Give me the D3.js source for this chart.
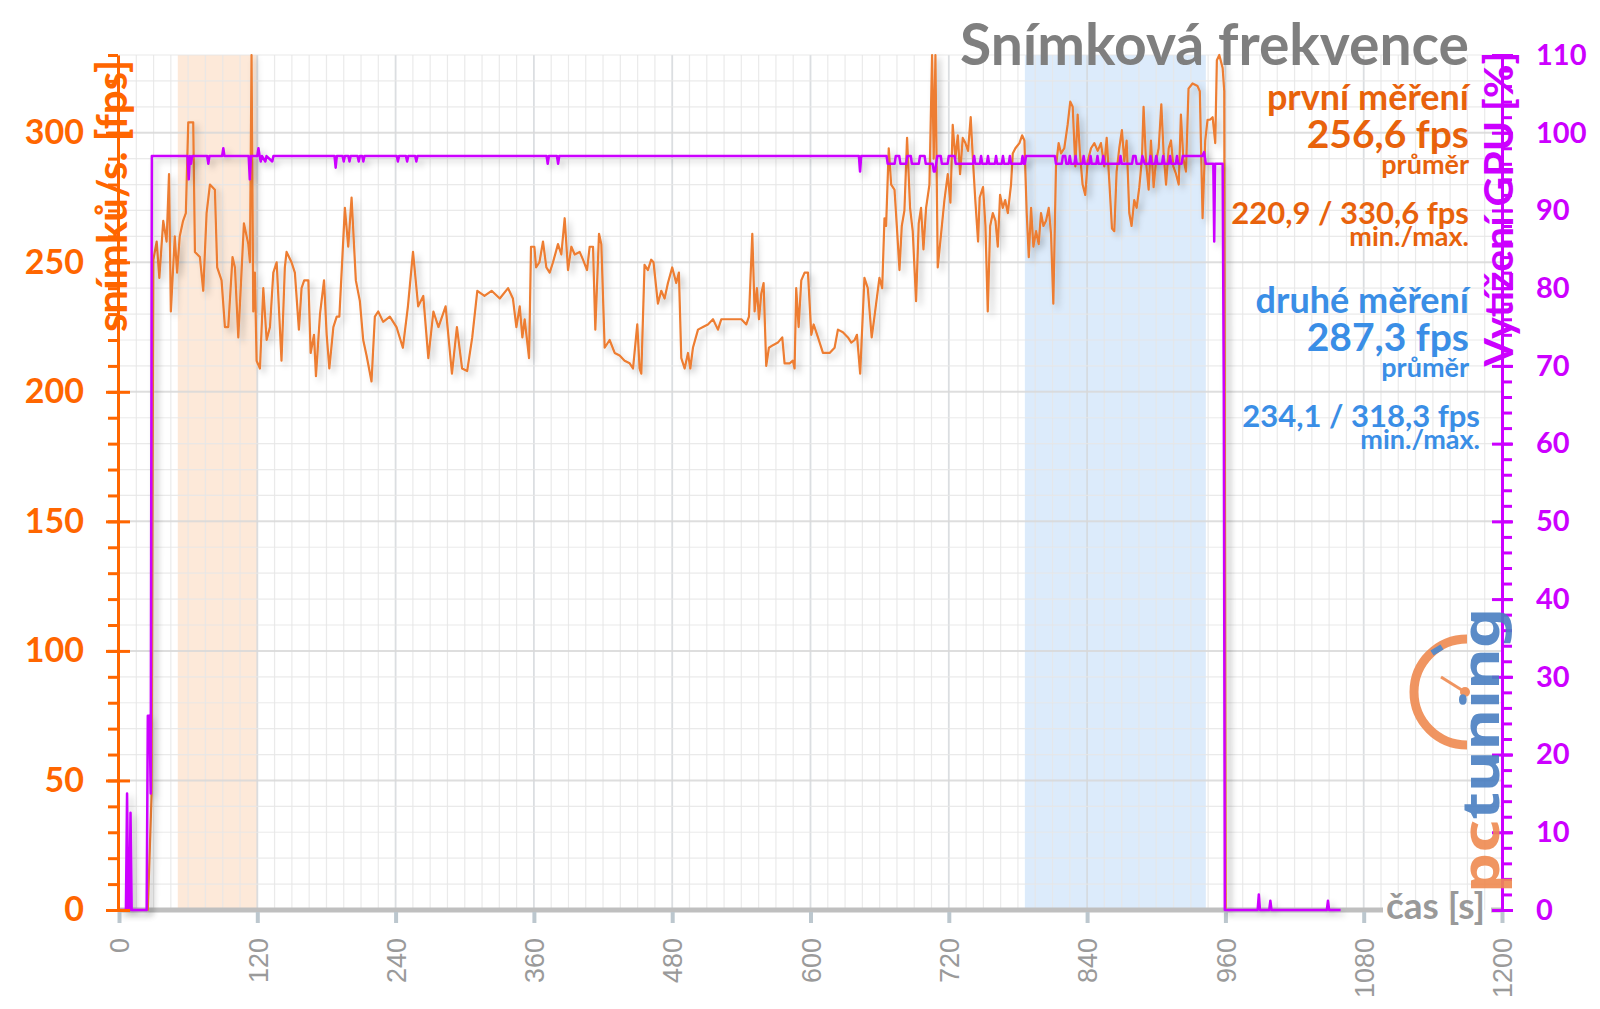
<!DOCTYPE html>
<html>
<head>
<meta charset="utf-8">
<script src="https://cdn.jsdelivr.net/npm/d3@7"></script>
<style>
html, body { margin: 0; padding: 0; background: #fff; }
svg { display: block; font-family: Lato, "Open Sans", sans-serif; }
</style>
</head>
<body>
<div id="chart"></div>
<script>
// snímková frekvence [s, fps]
const fpsData = [
[0,0],[25,0],[28.3,45],[29.8,251],[32.7,258],[35,244],[38.4,266],[41.3,258],[43.4,284],[45,231],[48.4,260],[50.4,246],[52.7,260],[55.6,266],[58,269],[60.1,304],[64.4,304],[65.9,254],[70.2,252],[73.1,239],[76,269],[78.9,280],[83.2,278],[85.2,248],[89,243],[91.9,225],[94.8,225],[98.5,252],[100.6,248],[103.5,221],[108.4,265],[112.2,257],[113.6,250],[115,330],[116.5,231],[117.9,246],[119.4,212],[122.3,209],[125.2,240],[128.1,220],[131,225],[133.9,246],[136.8,250],[141,212],[143.9,248],[145.4,254],[149.7,250],[152.6,246],[156.1,224],[158.4,240],[160.7,243],[164.3,243],[166.3,215],[169.2,222],[170.9,206],[174.4,230],[177.9,243],[180.2,222],[182.5,209],[186,225],[188.9,229],[191.2,229],[196,271],[198.9,256],[201.8,275],[205.5,243],[209,235],[211.9,220],[214.8,214],[219.1,204],[222,229],[224.9,231],[229.2,227],[235,229],[240.8,225],
[246.3,217],[250.7,233],[255.1,254],[259.6,233],[264,237],[268.4,213],[272.8,231],[277.2,225],[283.4,233],[288.9,207],[293.2,225],[297.7,209],[302.1,208],[306.5,221],[310.9,239],[317.1,237],[323.3,239],
[330.4,236],[337.6,240],[341.8,236],[344.8,225],[347.7,233],[350,221],[352,228],[355.8,213],[357.5,256],[360.4,256],[361.9,248],[364.8,250],[367.9,258],[370.8,248],[373.7,246],[376.6,250],[380.9,257],[383.8,253],[386.7,267],[389.6,247],[392.5,256],[395.4,253],[399.7,254],[402.6,251],[406.1,247],[408.4,256],[411.3,256],[413.3,224],[416.5,261],[418.5,257],[421.4,217],[425.7,220],[430.1,215],[434.4,214],[438.7,212],[443.1,211],[446,209],[449.7,226],[451.7,209],[453.2,207],[456,249],[458.9,247],[461.8,251],[463.8,250],[467.6,234],[470.5,239],[473.4,236],[476.3,242],[480,248],[483.5,242],[485.8,246],[487.9,213],[490.8,209],[493.7,215],[495.7,209],[498,217],[502.4,224],[506.7,225],[511,226],[515.4,228],[519.7,224],[522.6,228],[529.8,228],[535.6,228],[540,228],[544.3,226],[546.6,229],[549.5,261],[551.5,231],[553.5,240],[555.3,228],[557.3,238],[559.3,242],[561.6,210],[563.9,217],[567.4,218],[571.7,219],[575.5,221],[577.5,211],[581.9,211],[584.7,212],[586.2,209],[587.6,240],[589.7,225],[592,243],[594.9,246],[597.8,246],[600.7,222],[602.7,226],[606.5,221],[610.8,215],[616.6,215],[620.9,217],[623.8,224],[628.1,223],[632.5,221],[635.4,219],[638.3,220],[640.3,222],
[643.1,207],[646.8,244],[649.7,240],[653.1,221],[655.5,229],[659.8,244],[662.2,240],[664.2,267],[665.6,264],[667.9,294],[670,280],[672.9,278],[674.9,264],[677.2,247],[679.2,264],[681.5,270],[683.8,298],[686.4,271],[688.7,262],[691.6,235],[693.9,265],[695.9,271],[698,255],[700.3,271],[703.2,280],[705.5,330],[706.9,290],[708.4,330],[710.4,248],[713.3,261],[716.2,274],[719.1,284],[721.4,273],[723.4,303],[725.7,290],[727.8,299],[729.8,284],[732.1,298],[734.4,296],[736.7,293],[739,306],[741,289],[743,274],[745.4,258],[746.8,275],[749.7,279],[751.8,264],[753.8,231],[755.9,264],[758.2,269],[760.5,266],[762.5,256],[764.5,276],[766.8,271],[768.9,274],[771.2,269],[774,280],[775.5,292],[777.8,294],[781.3,296],[783.6,299],[785.6,297],[787.6,269],[789.4,252],[791.4,271],[793.4,256],[795.7,262],[798,257],[800,269],[802.1,264],[804.4,266],[806.7,271],[808.7,261],[810.7,234],[813,287],[815.3,296],[817.4,292],[820.2,294],[823.1,303],[825.4,312],[827.5,310],[829.8,287],[831.8,307],[833.8,292],[836.1,280],[838.4,276],[840.5,289],[843.4,294],[846.3,296],[849.2,293],[852,296],[854.9,287],[857,298],[859.3,281],[861.6,263],[863.6,262],[865.6,285],[867.9,294],[870.2,301],[872.3,289],[874.3,297],[876.6,269],[878.6,264],[880.9,274],[883,271],[885.3,279],[887.6,290],[889,310],[891.1,289],[893.4,278],[895.4,297],[897.7,279],[899.8,289],[902.1,294],[904.4,311],[906.4,292],[908.5,280],[910.8,294],[912.8,297],[914.8,287],[917.2,284],[919.5,280],[921.4,307],[923.5,290],[925.8,285],[928,317],[931.5,319],[935.8,318],[937.8,316],[940.2,267],[942.5,297],[944.5,305],[946.6,305],[948.9,306],[951.2,296],[952.6,328],[954.7,330],[957.6,325],[959,316],[960.3,0]
];

// vytížení GPU [s, %]
const gpuData = [
[0,0],[6,0],[7,15],[8,0],[9,0],[10,12.5],[11,0],[24,0],[25,25],[26.5,25],[27.5,15],[28.5,97],
[59.5,97],[60.5,94],[61.5,97],[62.5,96],[63.5,97],
[76.5,97],[77.5,96],[78.5,97],
[89.5,97],[90.5,98],[91.5,97],
[112.5,97],[113.5,94],[114.5,97],
[120,97],[121,98],[122,97],[123,96.3],[124,97],[127,96.3],[128,97],[133,96.3],[134,97],
[187,97],[188,95.5],[189,97],[194,97],[195,96.3],[196,97],[199,97],[200,96.3],[201,97],[207,97],[208,96.3],[209,97],[211,97],[212,96.3],[213,97],
[241,97],[242,96.3],[243,97],[249,97],[250,96.3],[251,97],[257,97],[258,96.3],[259,97],
[371,97],[372,96],[373,97],[380,97],[381,96],[382,97],
[642,97],[643,95],[644,97],
[666,97],[667,96],[673,96],[674,97],[677,97],[678,96],[683,96],[684,97],[687,97],[688,96],[694,96],[695,97],[699,97],[700,96],[706,96],[707,95],[708,95],[709,96],[710,97],[713,97],[714,96],[719,96],[720,97],[725,97],[726,96],
[741,96],[742,97],[743,96],[747,96],[748,97],[749,96],[753,96],[754,97],[755,96],[760,96],[761,97],[762,96],[766,96],[767,97],[768,96],[772,96],[773,97],[774,96],[783,96],[784,97],[785,96],[786,96],[787,97],
[812,97],[813,96],[818,96],[819,97],[821,97],[822,96],[824,96],[825,97],[826,96],[829,96],[830,97],[831,96],[836,96],[837,97],[838,96],[842,96],[843,97],[844,96],[848,96],[849,97],[850,96],[853,96],[854,97],[855,96],[868,96],[869,97],[870,96],[879,96],[880,97],[882,97],[883,96],[887,96],[888,97],[890,96],[894,96],[895,97],[896,96],[899,96],[900,97],[901,96],[905,96],[906,97],[907,96],[911,96],[912,97],[913,96],[917,96],[918,97],[919,96],[922,96],[923,97],
[940,97],[941.5,97.5],[943,96],[949.5,96],[950.3,86],[951,96],[957.6,96],[958.6,67],[959.5,0],
[988,0],[989,2],[990,0],[998,0],[999,1.2],[1000,0],[1048,0],[1049,1.2],[1050,0],[1060,0]
];

// měřené úseky [od, do] v s
const bands = [[51, 120], [786, 943]];

const xTicks = d3.range(0, 1201, 120);
const fpsTicks = d3.range(0, 301, 50);
const gpuTicks = d3.range(0, 111, 10);

const runs = [
    { name: 'první měření', avg: '256,6', min: '220,9', max: '330,6' },
    { name: 'druhé měření', avg: '287,3', min: '234,1', max: '318,3' }
];

const W = 1600, H = 1009;
const orange = '#ED7D31', axisOrange = '#FF6600', textOrange = '#E8620C';
const purple = '#CC00FF', blue = '#3A8EE6', grey = '#7F7F7F';

const svg = d3.select('#chart').append('svg')
    .attr('width', W)
    .attr('height', H);

const defs = svg.append('defs');
const f = defs.append('filter').attr('id', 'shadow')
    .attr('x', '-5%').attr('y', '-5%').attr('width', '115%').attr('height', '115%');
f.append('feDropShadow')
    .attr('dx', 4).attr('dy', 4).attr('stdDeviation', 3)
    .attr('flood-color', '#000').attr('flood-opacity', 0.22);

const x = d3.scaleLinear().domain([0, 1200]).range([119, 1502]);
const yFps = d3.scaleLinear().domain([0, 330]).range([910, 55]);
const yGpu = d3.scaleLinear().domain([0, 110]).range([910, 55]);

// zvýrazněné úseky
svg.selectAll('rect.band')
    .data(bands)
    .enter()
    .append('rect')
    .attr('class', 'band')
    .attr('x', d => x(d[0]))
    .attr('y', yFps(330))
    .attr('width', d => x(d[1]) - x(d[0]))
    .attr('height', yFps(0) - yFps(330))
    .attr('fill', (d, i) => i == 0 ? '#FDE9D9' : '#DCEBFB');

// mřížka
const grid = svg.append('g');
grid.selectAll('line.vg')
    .data(d3.range(0, 1201, 15))
    .enter()
    .append('line')
    .attr('x1', d => x(d)).attr('x2', d => x(d))
    .attr('y1', yFps(330)).attr('y2', yFps(0))
    .attr('stroke', d => d % 120 == 0 ? '#D5D8DC' : '#E6E6E6')
    .attr('stroke-opacity', 0.85)
    .attr('stroke-width', d => d % 120 == 0 ? 1.8 : 1.2);
grid.selectAll('line.hg')
    .data(d3.range(10, 331, 10))
    .enter()
    .append('line')
    .attr('x1', x(0)).attr('x2', x(1200))
    .attr('y1', d => yFps(d)).attr('y2', d => yFps(d))
    .attr('stroke', d => d % 50 == 0 ? '#D8D8D8' : '#E6E6E6')
    .attr('stroke-opacity', 0.85)
    .attr('stroke-width', d => d % 50 == 0 ? 2 : 1.2);

// osa x
svg.append('line')
    .attr('x1', x(0)).attr('x2', 1383)
    .attr('y1', 910).attr('y2', 910)
    .attr('stroke', '#BFBFBF').attr('stroke-width', 5);
svg.append('line')
    .attr('x1', 1491).attr('x2', x(1200))
    .attr('y1', 910).attr('y2', 910)
    .attr('stroke', '#BFBFBF').attr('stroke-width', 5);

const xAxis = d3.axisBottom(x).tickValues(xTicks).tickFormat(d3.format('d'))
    .tickSize(11).tickSizeOuter(0).tickPadding(0);
const gx = svg.append('g')
    .attr('transform', 'translate(0,912)')
    .call(xAxis);
gx.select('.domain').remove();
gx.selectAll('.tick line').attr('stroke', '#BCC7CE').attr('stroke-width', 4);
gx.selectAll('.tick text')
    .attr('transform', 'rotate(-90)')
    .attr('text-anchor', 'end')
    .attr('x', -26)
    .attr('y', 0)
    .attr('dy', '0.36em')
    .attr('fill', '#9A9A9A')
    .style('font-family', '"Liberation Sans", Arial, sans-serif')
    .style('font-size', '27px');

svg.append('text')
    .attr('x', 1386).attr('y', 919)
    .attr('fill', '#999')
    .style('font-weight', 700)
    .style('font-size', '37px')
    .text('čas [s]');

// křivky
const line = d3.line().x(d => x(d[0]));
svg.append('path')
    .datum(fpsData)
    .attr('d', line.y(d => yFps(d[1])))
    .attr('fill', 'none')
    .attr('stroke', orange)
    .attr('stroke-width', 2.2)
    .attr('stroke-linejoin', 'round')
    .attr('filter', 'url(#shadow)');
svg.append('path')
    .datum(gpuData)
    .attr('d', d3.line().x(d => x(d[0])).y(d => yGpu(d[1])))
    .attr('fill', 'none')
    .attr('stroke', purple)
    .attr('stroke-width', 2.5)
    .attr('stroke-linejoin', 'round')
    .attr('filter', 'url(#shadow)');

// levá osa
const gyMinor = svg.append('g')
    .attr('transform', 'translate(118,0)')
    .call(d3.axisLeft(yFps).tickValues(d3.range(0, 331, 10)).tickSize(10).tickSizeOuter(0).tickFormat(''));
gyMinor.select('.domain').attr('stroke', axisOrange).attr('stroke-width', 3);
gyMinor.selectAll('.tick line').attr('stroke', axisOrange).attr('stroke-width', 3);

const gy = svg.append('g')
    .attr('transform', 'translate(118,0)')
    .call(d3.axisLeft(yFps).tickValues(fpsTicks).tickSize(12).tickSizeOuter(0).tickPadding(22));
gy.select('.domain').remove();
gy.selectAll('.tick line').attr('x2', 12).attr('x1', -12).attr('stroke', axisOrange).attr('stroke-width', 3);
gy.selectAll('.tick text')
    .attr('fill', axisOrange)
    .style('font-family', 'Lato, sans-serif')
    .style('font-weight', 700)
    .style('font-size', '34px');

// pravá osa
const gr = svg.append('g')
    .attr('transform', 'translate(1502,0)')
    .call(d3.axisRight(yGpu).tickValues(d3.range(0, 111, 2)).tickSize(10).tickSizeOuter(0).tickFormat(''));
gr.select('.domain').attr('stroke', purple).attr('stroke-width', 3);
gr.selectAll('.tick line').attr('stroke', purple).attr('stroke-width', 3);

const grMajor = svg.append('g')
    .attr('transform', 'translate(1502,0)')
    .call(d3.axisRight(yGpu).tickValues(gpuTicks).tickSize(11).tickSizeOuter(0).tickPadding(23));
grMajor.select('.domain').remove();
grMajor.selectAll('.tick line').attr('x1', -10).attr('stroke', purple).attr('stroke-width', 3);
grMajor.selectAll('.tick text')
    .attr('fill', purple)
    .style('font-family', 'Lato, sans-serif')
    .style('font-weight', 700)
    .style('font-size', '29px');

// popisky os
svg.append('text')
    .attr('transform', 'translate(127,196) rotate(-90)')
    .attr('text-anchor', 'middle')
    .attr('fill', axisOrange)
    .style('font-weight', 700)
    .style('font-size', '42px')
    .text('snímků/s. [fps]');
svg.append('text')
    .attr('transform', 'translate(1513,209) rotate(-90)')
    .attr('text-anchor', 'middle')
    .attr('fill', purple)
    .style('font-weight', 700)
    .style('font-size', '41px')
    .text('Vytížení GPU [%]');

// titulek
svg.append('text')
    .attr('x', 1469).attr('y', 65)
    .attr('text-anchor', 'end')
    .attr('fill', grey)
    .style('font-weight', 700)
    .style('font-size', '57px')
    .text('Snímková frekvence');

// souhrn měření
const blocks = [
    { color: textOrange, top: 110, right: 1469, right2: 1469 },
    { color: blue, top: 313, right: 1469, right2: 1480 }
];
runs.forEach((r, i) => {
    const b = blocks[i];
    const g = svg.append('g')
        .attr('fill', b.color)
        .attr('text-anchor', 'end')
        .style('font-weight', 700);
    g.append('text').attr('x', b.right).attr('y', b.top).style('font-size', '36px').text(r.name);
    g.append('text').attr('x', b.right).attr('y', b.top + 38).style('font-size', '39px').text(r.avg + ' fps');
    g.append('text').attr('x', b.right).attr('y', b.top + 64).style('font-size', '27px').text('průměr');
    g.append('text').attr('x', b.right2).attr('y', b.top + 114).style('font-size', '31px').text(r.min + ' / ' + r.max + ' fps');
    g.append('text').attr('x', b.right2).attr('y', b.top + 136).style('font-size', '27px').text('min./max.');
});

// logo
const logo = svg.append('g').attr('opacity', 0.9);
logo.append('path')
    .attr('d', 'M1467,639 A53,53 0 0 0 1467,745')
    .attr('fill', 'none')
    .attr('stroke', '#EF8A50')
    .attr('stroke-width', 9);
logo.append('path')
    .attr('d', 'M1432,653 L1442,647')
    .attr('stroke', '#4A7FC1')
    .attr('stroke-width', 6);
logo.append('line')
    .attr('x1', 1441).attr('y1', 677).attr('x2', 1465).attr('y2', 692)
    .attr('stroke', '#EF8A50').attr('stroke-width', 3);
logo.append('circle')
    .attr('cx', 1465).attr('cy', 692).attr('r', 5)
    .attr('fill', '#EF8A50');
const lt = logo.append('text')
    .attr('transform', 'translate(1499,893) rotate(-90)')
    .attr('textLength', 285)
    .attr('lengthAdjust', 'spacingAndGlyphs')
    .style('font-family', '"Noto Sans", sans-serif')
    .style('font-weight', 700)
    .style('font-size', '52px');
lt.append('tspan').attr('fill', '#EF8A50').text('pc');
lt.append('tspan').attr('fill', '#4A7FC1').text('tuning');
</script>
</body>
</html>
